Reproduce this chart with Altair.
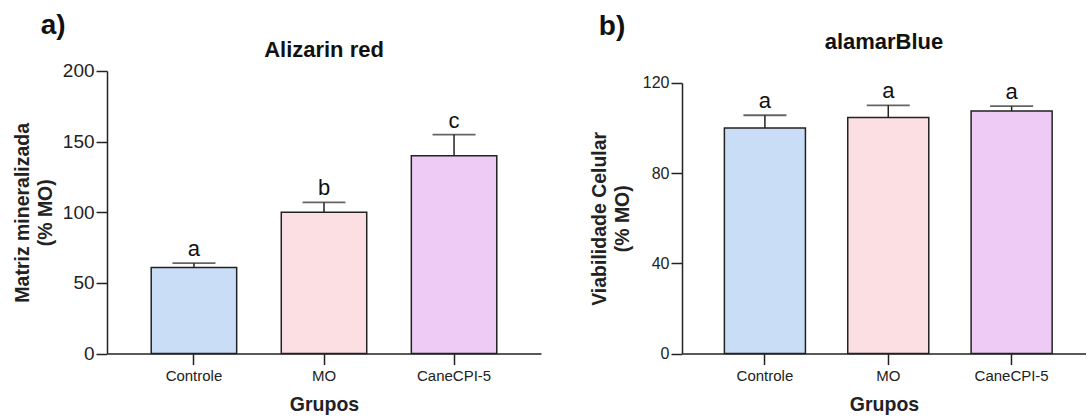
import altair as alt
import pandas as pd

groups = ["Controle", "MO", "CaneCPI-5"]
colors = ["#C9DDF6", "#FCDFE2", "#EDCBF5"]

alizarin_mean = [61, 100, 140]
alizarin_err = [3, 7, 15]
alizarin_letters = ["a", "b", "c"]

alamar_mean = [100, 104.7, 107.6]
alamar_err = [5.7, 5.4, 2.1]
alamar_letters = ["a", "a", "a"]

F = "Liberation Sans"
INK = "#222222"


def make_df(means, errs, letters):
    return pd.DataFrame({
        "grupo": groups,
        "media": means,
        "topo": [m + e for m, e in zip(means, errs)],
        "letra": letters,
    })


def panel(df, title, title_offset, ytitle, ydomain, yvalues, yrange, ylabel_size, ytitle_pad,
          width, height, pad_outer, align):
    xscale = alt.Scale(domain=groups, paddingInner=0.343, paddingOuter=pad_outer, align=align)
    xaxis = alt.Axis(title="Grupos", labelAngle=0, labelFontSize=15, labelFont=F,
                     labelColor=INK, tickSize=11, labelPadding=4, titlePadding=12,
                     titleFont=F, titleFontSize=19.5, titleFontWeight="bold", titleColor=INK,
                     domainColor=INK, domainWidth=1.5, tickColor=INK, tickWidth=1.5)
    yscale = alt.Scale(domain=ydomain, range=yrange, nice=False)
    yaxis = alt.Axis(title=ytitle, values=yvalues, labelFontSize=ylabel_size, labelFont=F,
                     labelColor=INK, tickSize=11, labelPadding=2, titlePadding=ytitle_pad,
                     titleFont=F, titleFontSize=19.5, titleFontWeight="bold", titleColor=INK,
                     titleLineHeight=22.5, grid=False,
                     domainColor=INK, domainWidth=1.5, tickColor=INK, tickWidth=1.5)
    base = alt.Chart(df).encode(x=alt.X("grupo:N", sort=groups, scale=xscale, axis=xaxis))
    bars = base.mark_bar(stroke=INK, strokeWidth=1.5).encode(
        y=alt.Y("media:Q", scale=yscale, axis=yaxis),
        color=alt.Color("grupo:N", scale=alt.Scale(domain=groups, range=colors), legend=None),
    )
    rule = base.mark_rule(color=INK, strokeWidth=1.5).encode(y="media:Q", y2="topo:Q")
    cap = base.mark_tick(color=INK, thickness=1.8, size=43).encode(y="topo:Q")
    letters = base.mark_text(font=F, fontSize=22, dy=-7, baseline="alphabetic", color="#111111").encode(
        y="topo:Q", text="letra:N")
    return alt.layer(bars, rule, cap, letters).properties(
        width=width, height=height,
        view=alt.ViewBackground(stroke="transparent", strokeWidth=0),
        title=alt.TitleParams(text=title, font=F, fontSize=22, fontWeight="bold", color="#111111",
                              anchor="middle", frame="group", baseline="alphabetic",
                              offset=title_offset),
    )


df_a = make_df(alizarin_mean, alizarin_err, alizarin_letters)
df_b = make_df(alamar_mean, alamar_err, alamar_letters)

pa = panel(df_a, "Alizarin red", -17, ["Matriz mineralizada", "(% MO)"], [0, 200],
           [0, 50, 100, 150, 200], [282.6, 0], 19, 7, 434, 282.6, 0.34, 0.5)
pb = panel(df_b, "alamarBlue", 0, ["Viabilidade Celular", "(% MO)"], [0, 120],
           [0, 40, 80, 120], [282.6, 12], 16, 10, 404, 282.6, 0.309, 0.556)

tag_a = alt.hconcat(pa, title=alt.TitleParams(text="a)", font=F, fontSize=28, fontWeight="bold",
                                              color="#111111", anchor="start", frame="bounds",
                                              baseline="alphabetic", dx=28, offset=-23))
tag_b = alt.hconcat(pb, title=alt.TitleParams(text="b)", font=F, fontSize=28, fontWeight="bold",
                                              color="#111111", anchor="start", frame="bounds",
                                              baseline="alphabetic", dx=9, offset=-32))

chart = alt.hconcat(tag_a, tag_b, spacing=48).properties(
    padding={"left": 12, "top": 12, "right": 0, "bottom": 0}
).configure_view(stroke="transparent", strokeWidth=0).configure(background="white")

chart.save("out.html", embed_options={"renderer": "svg", "actions": False})
